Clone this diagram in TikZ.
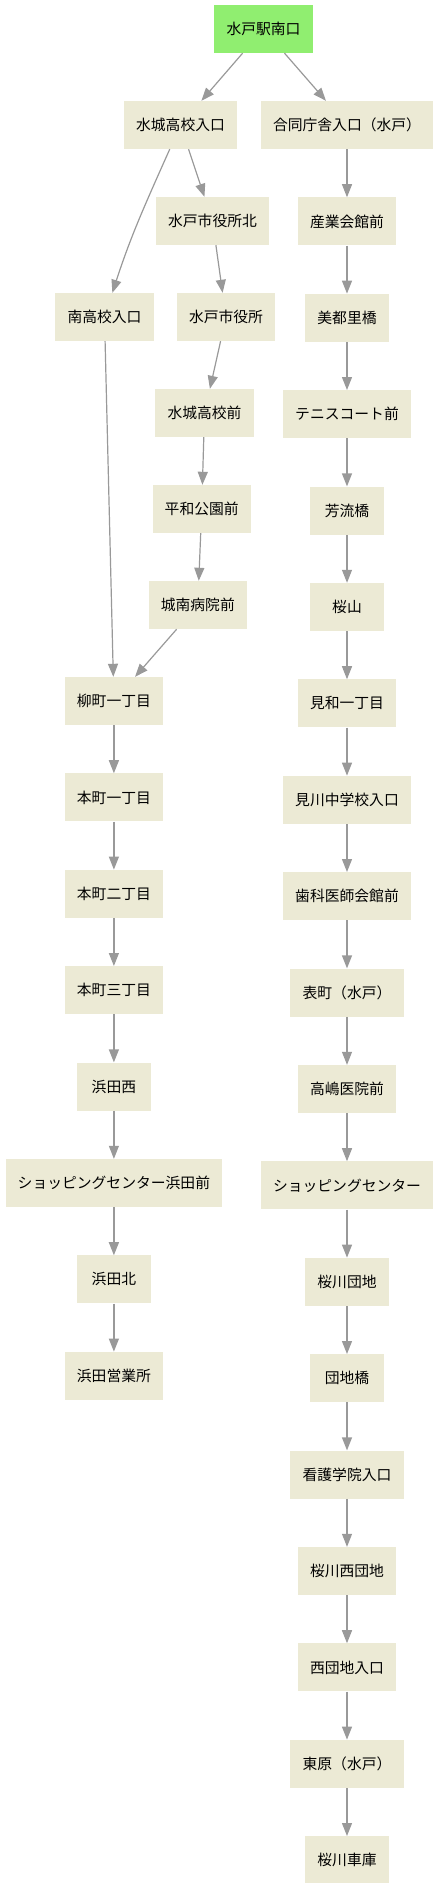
\documentclass[tikz,border=0pt]{standalone}
\usepackage{fontspec}
\setmainfont{Noto Sans CJK JP}
\usepackage{xcolor}
\usepackage{tikz}
\usetikzlibrary{arrows.meta,positioning}
\definecolor{stopfill}{RGB}{236,234,213}
\definecolor{startfill}{RGB}{144,238,112}
\definecolor{edgegray}{RGB}{153,153,153}

\begin{document}
\begin{tikzpicture}[
    x=1pt,y=-1pt,
    >={Triangle[length=13pt,width=10pt]},
    stopbox/.style={rectangle,fill=stopfill,minimum width=73.3pt,minimum height=48pt,
                    inner xsep=12.15pt,align=center,font=\fontsize{14.8}{17}\selectfont},
    startbox/.style={stopbox,fill=startfill},
    fl/.style={->,line width=1.2pt,edgegray},
    node distance=48pt,
]
\useasboundingbox (0,0) rectangle (439,1883);

\node[startbox] (mito) at (263.5,29) {水戸駅南口};

% left branch
\node[stopbox] (suijoiri) at (180.5,125) {水城高校入口};
\node[stopbox] (kitashi) at (212.5,221) {水戸市役所北};
\node[stopbox] (minami) at (104.5,317) {南高校入口};
\node[stopbox] (shiyaku) at (226,317) {水戸市役所};
\node[stopbox] (suijomae) at (204.5,413) {水城高校前};
\node[stopbox] (heiwa) at (201.7,509) {平和公園前};
\node[stopbox] (jonan) at (197.8,605) {城南病院前};
\node[stopbox] (yanagi) at (113.9,701) {柳町一丁目};
\node[stopbox,below=of yanagi] (hon1) {本町一丁目};
\node[stopbox,below=of hon1] (hon2) {本町二丁目};
\node[stopbox,below=of hon2] (hon3) {本町三丁目};
\node[stopbox,below=of hon3] (hamanishi) {浜田西};
\node[stopbox,below=of hamanishi] (shophama) {ショッピングセンター浜田前};
\node[stopbox,below=of shophama] (hamakita) {浜田北};
\node[stopbox,below=of hamakita] (hamaeigyo) {浜田営業所};

% right branch
\node[stopbox] (godo) at (347,125) {合同庁舎入口（水戸）};
\node[stopbox,below=of godo] (sangyo) {産業会館前};
\node[stopbox,below=of sangyo] (mitori) {美都里橋};
\node[stopbox,below=of mitori] (tennis) {テニスコート前};
\node[stopbox,below=of tennis] (horyu) {芳流橋};
\node[stopbox,below=of horyu] (sakurayama) {桜山};
\node[stopbox,below=of sakurayama] (miwa) {見和一丁目};
\node[stopbox,below=of miwa] (migawa) {見川中学校入口};
\node[stopbox,below=of migawa] (shika) {歯科医師会館前};
\node[stopbox,below=of shika] (omote) {表町（水戸）};
\node[stopbox,below=of omote] (takashima) {高嶋医院前};
\node[stopbox,below=of takashima] (shop) {ショッピングセンター};
\node[stopbox,below=of shop] (sakudanchi) {桜川団地};
\node[stopbox,below=of sakudanchi] (danchibashi) {団地橋};
\node[stopbox,below=of danchibashi] (kango) {看護学院入口};
\node[stopbox,below=of kango] (sakunishi) {桜川西団地};
\node[stopbox,below=of sakunishi] (nishiiri) {西団地入口};
\node[stopbox,below=of nishiiri] (higashihara) {東原（水戸）};
\node[stopbox,below=of higashihara] (shako) {桜川車庫};

\draw[fl] (mito) -- (suijoiri);
\draw[fl] (mito) -- (godo);

\draw[fl] (suijoiri) -- (kitashi);
\draw[fl] (suijoiri) to[out=-114,in=72] (minami);
\draw[fl] (kitashi) -- (shiyaku);
\draw[fl] (shiyaku) -- (suijomae);
\draw[fl] (suijomae) -- (heiwa);
\draw[fl] (heiwa) -- (jonan);
\draw[fl] (jonan) -- (yanagi);
\draw[fl] (minami) -- (yanagi);
\draw[fl] (yanagi) -- (hon1);
\draw[fl] (hon1) -- (hon2);
\draw[fl] (hon2) -- (hon3);
\draw[fl] (hon3) -- (hamanishi);
\draw[fl] (hamanishi) -- (shophama);
\draw[fl] (shophama) -- (hamakita);
\draw[fl] (hamakita) -- (hamaeigyo);

\draw[fl] (godo) -- (sangyo);
\draw[fl] (sangyo) -- (mitori);
\draw[fl] (mitori) -- (tennis);
\draw[fl] (tennis) -- (horyu);
\draw[fl] (horyu) -- (sakurayama);
\draw[fl] (sakurayama) -- (miwa);
\draw[fl] (miwa) -- (migawa);
\draw[fl] (migawa) -- (shika);
\draw[fl] (shika) -- (omote);
\draw[fl] (omote) -- (takashima);
\draw[fl] (takashima) -- (shop);
\draw[fl] (shop) -- (sakudanchi);
\draw[fl] (sakudanchi) -- (danchibashi);
\draw[fl] (danchibashi) -- (kango);
\draw[fl] (kango) -- (sakunishi);
\draw[fl] (sakunishi) -- (nishiiri);
\draw[fl] (nishiiri) -- (higashihara);
\draw[fl] (higashihara) -- (shako);

\end{tikzpicture}
\end{document}
